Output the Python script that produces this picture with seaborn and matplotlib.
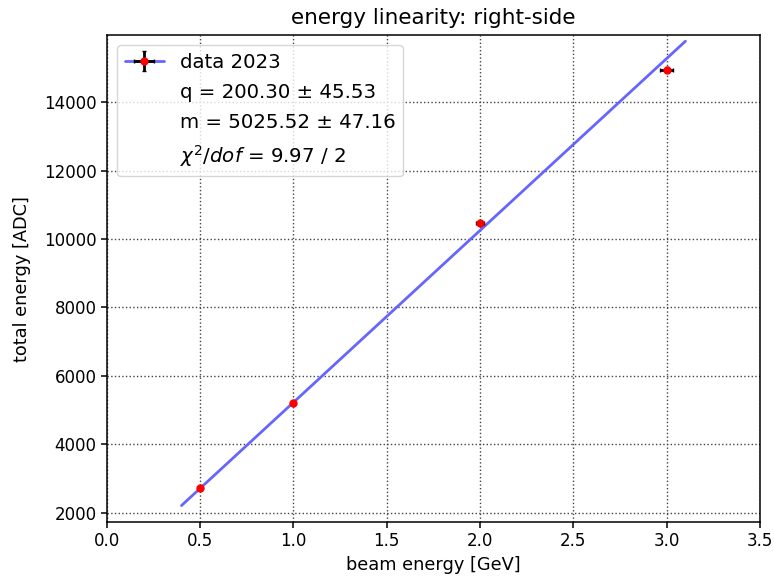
import numpy as np
import matplotlib
matplotlib.use("Agg")
import matplotlib.pyplot as plt
import seaborn as sns
from matplotlib.lines import Line2D

# measured points
beam_energy = [0.5, 1.0, 2.0, 3.0]
beam_energy_err = [0.005, 0.005, 0.023, 0.036]
total_energy = [2713, 5205, 10474, 14944]
total_energy_err = [40, 40, 60, 70]

# linear fit parameters
fit_q = 200.30
fit_q_err = 45.53
fit_m = 5025.52
fit_m_err = 47.16
chi2 = 9.97
ndof = 2
fit_range = [0.4, 3.1]

sns.set_theme(style="ticks")
plt.rcParams.update({
    "font.family": ["DejaVu Sans"],
    "axes.edgecolor": "black",
    "axes.linewidth": 1.1,
    "xtick.color": "black",
    "ytick.color": "black",
    "axes.labelcolor": "black",
    "text.color": "black",
})

fig, ax = plt.subplots(figsize=(7.74, 5.8), dpi=100)

xfit = np.linspace(fit_range[0], fit_range[1], 50)
yfit = fit_q + fit_m * xfit
fit_line, = ax.plot(xfit, yfit, color="#6666ff", lw=2.0, zorder=2)

eb = ax.errorbar(beam_energy, total_energy, xerr=beam_energy_err, yerr=total_energy_err,
                 fmt="o", color="red", ms=5, ecolor="black", elinewidth=2.0,
                 capsize=1.5, zorder=3)

ax.set_xlim(0, 3.5)
ax.set_ylim(1730, 15950)
ax.grid(True, linestyle=":", color="#444444", linewidth=1.0)
ax.tick_params(labelsize=12, direction="out", length=4, width=1.1)
ax.set_xlabel("beam energy [GeV]", fontsize=12.8)
ax.set_ylabel("total energy [ADC]", fontsize=12.8, labelpad=9)
ax.set_title("energy linearity: right-side", fontsize=15.5, pad=8)

blank = Line2D([], [], color="none")
handles = [(fit_line, eb), blank, blank, blank]
labels = [
    "data 2023",
    f"q = {fit_q:.2f} ± {fit_q_err:.2f}",
    f"m = {fit_m:.2f} ± {fit_m_err:.2f}",
    rf"$\chi^2/dof$ = {chi2:.2f} / {ndof}",
]
ax.legend(handles, labels, loc="upper left", fontsize=14.2, framealpha=0.8,
          edgecolor="#cccccc", fancybox=True, labelspacing=0.55)

fig.subplots_adjust(left=0.138, right=0.982, top=0.939, bottom=0.1)
fig.savefig("out.png", dpi=100)
